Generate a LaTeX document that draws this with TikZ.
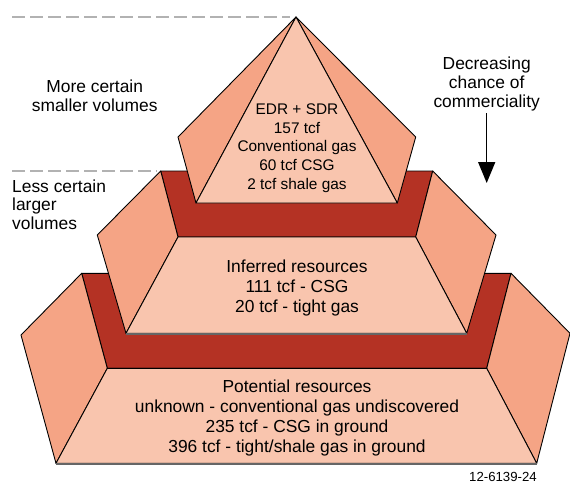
\documentclass[tikz,border=0pt]{standalone}
\usepackage{fontspec}
\setmainfont{Liberation Sans}
\usetikzlibrary{arrows.meta}

\definecolor{bandred}{RGB}{180,50,36}
\definecolor{sideface}{RGB}{245,164,133}
\definecolor{frontface}{RGB}{249,197,174}

\tikzset{
  band/.style={fill=bandred,draw=black,line width=0.9pt,line join=round},
  side/.style={fill=sideface,draw=black,line width=0.9pt,line join=round},
  front/.style={fill=frontface,draw=black,line width=0.9pt,line join=round},
  shadow/.style={draw=black!60,line width=1.6pt},
  level/.style={black!30,line width=1.4pt,dash pattern=on 13pt off 5pt},
  lbl/.style={font=\fontsize{17.4}{19}\selectfont,text=black,inner sep=0pt}
}

\begin{document}
\begin{tikzpicture}[x=1pt,y=-1pt]
\useasboundingbox (0,0) rectangle (570,483);

% certainty levels
\draw[level] (12,17) -- (290,17);
\draw[level] (12,171) -- (157,171);

% bottom tier
\draw[band] (81.7,273.3) -- (511,273.3) -- (486.7,368.3) -- (107.3,368.3) -- cycle;
\draw[side] (81.7,273.3) -- (21,335) -- (56,463.3) -- (107.3,368.3) -- cycle;
\draw[side] (511,273.3) -- (570,333.3) -- (536.7,463.3) -- (486.7,368.3) -- cycle;
\draw[front] (107.3,368.3) -- (486.7,368.3) -- (536.7,463.3) -- (56,463.3) -- cycle;
\draw[shadow] (56,463.8) -- (536.7,463.8);

% middle tier
\draw[band] (160.7,171) -- (432.7,171) -- (415.7,237) -- (178,237) -- cycle;
\draw[side] (160.7,171) -- (97.3,235) -- (126,333.3) -- (178,237) -- cycle;
\draw[side] (432.7,171) -- (496,235) -- (466.7,333.3) -- (415.7,237) -- cycle;
\draw[front] (178,237) -- (415.7,237) -- (466.7,333.3) -- (126,333.3) -- cycle;
\draw[shadow] (126,333.8) -- (466.7,333.8);

% top pyramid
\draw[side] (296,17) -- (178,137) -- (196,203) -- cycle;
\draw[side] (296,17) -- (415.7,137) -- (397.3,203) -- cycle;
\draw[front] (296,17) -- (397.3,203) -- (196,203) -- cycle;

% texts
\node[lbl,font=\fontsize{15.4}{18.75}\selectfont,align=center] (edr) at (297,148)
  {EDR + SDR\\157 tcf\\Conventional gas\\60 tcf CSG\\2 tcf shale gas};
\node[lbl,font=\fontsize{17.4}{20}\selectfont,align=center] (inferred) at (297,287.5)
  {Inferred resources\\111 tcf - CSG\\20 tcf - tight gas};
\node[lbl,font=\fontsize{17.4}{20.3}\selectfont,align=center] (potential) at (297,418)
  {Potential resources\\unknown - conventional gas undiscovered\\235 tcf - CSG in ground\\396 tcf - tight/shale gas in ground};

\node[lbl,align=center] (morecert) at (94.7,96) {More certain\\smaller volumes};
\node[lbl,font=\fontsize{17.4}{18.5}\selectfont,align=left,anchor=west] (lesscert) at (12,204.5)
  {Less certain\\larger\\volumes};
\node[lbl,align=center] (decr) at (486.7,83.5) {Decreasing\\chance of\\commerciality};
\coordinate (decrend) at (486.7,183);
\draw[line width=1.5pt,-{Triangle[width=17pt,length=21pt]}] ([yshift=-2.5pt]decr.south) -- (decrend);

\node[lbl,font=\fontsize{13.2}{15}\selectfont] (figno) at (503,477) {12-6139-24};

\end{tikzpicture}
\end{document}
